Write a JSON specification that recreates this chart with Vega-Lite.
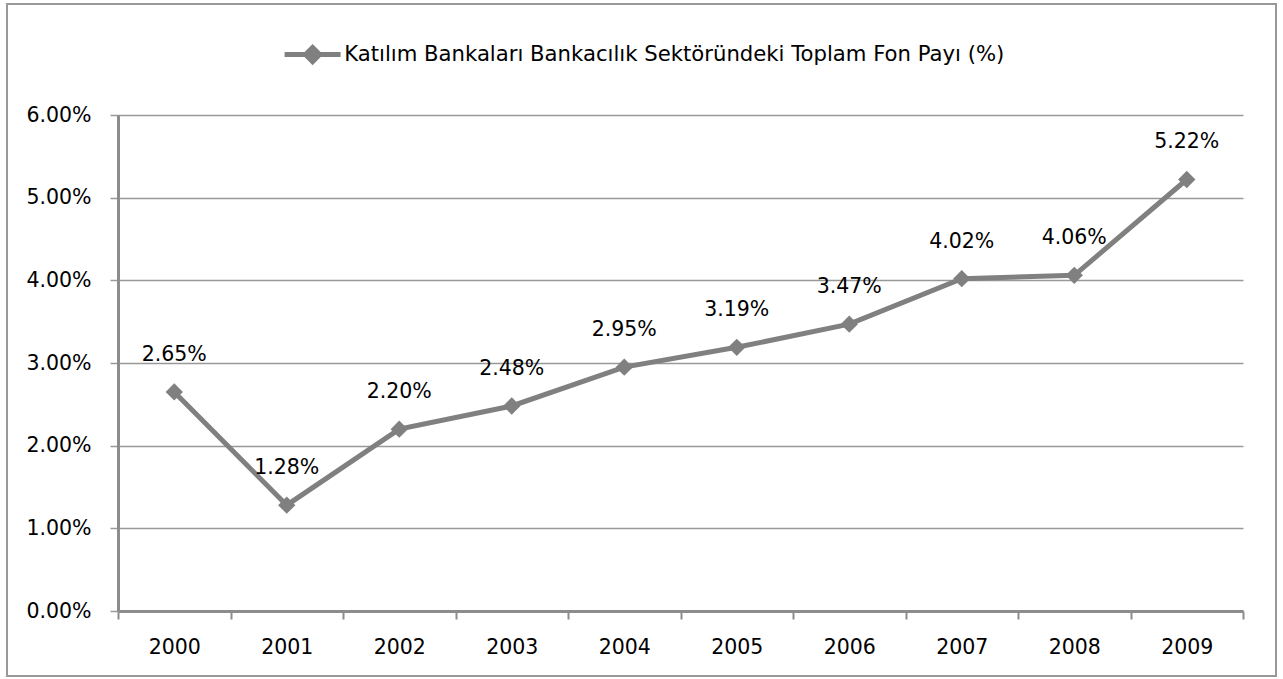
{
  "$schema": "https://vega.github.io/schema/vega-lite/v6.json",
  "autosize": {"type": "none"},
  "width": 1269,
  "height": 672,
  "padding": {"left": 7, "top": 4, "right": 7, "bottom": 3},
  "background": "white",
  "config": {
    "view": {"stroke": "#999999", "strokeWidth": 2},
    "font": "DejaVu Sans"
  },
  "data": {
    "values": [
      {"year": "2000", "share": 0.0265, "series": "Katılım Bankaları Bankacılık Sektöründeki Toplam Fon Payı (%)"},
      {"year": "2001", "share": 0.0128, "series": "Katılım Bankaları Bankacılık Sektöründeki Toplam Fon Payı (%)"},
      {"year": "2002", "share": 0.0220, "series": "Katılım Bankaları Bankacılık Sektöründeki Toplam Fon Payı (%)"},
      {"year": "2003", "share": 0.0248, "series": "Katılım Bankaları Bankacılık Sektöründeki Toplam Fon Payı (%)"},
      {"year": "2004", "share": 0.0295, "series": "Katılım Bankaları Bankacılık Sektöründeki Toplam Fon Payı (%)"},
      {"year": "2005", "share": 0.0319, "series": "Katılım Bankaları Bankacılık Sektöründeki Toplam Fon Payı (%)"},
      {"year": "2006", "share": 0.0347, "series": "Katılım Bankaları Bankacılık Sektöründeki Toplam Fon Payı (%)"},
      {"year": "2007", "share": 0.0402, "series": "Katılım Bankaları Bankacılık Sektöründeki Toplam Fon Payı (%)"},
      {"year": "2008", "share": 0.0406, "series": "Katılım Bankaları Bankacılık Sektöründeki Toplam Fon Payı (%)"},
      {"year": "2009", "share": 0.0522, "series": "Katılım Bankaları Bankacılık Sektöründeki Toplam Fon Payı (%)"}
    ]
  },
  "encoding": {
    "x": {
      "field": "year",
      "type": "ordinal",
      "scale": {"type": "band", "range": [111, 1236], "paddingInner": 0, "paddingOuter": 0},
      "axis": {
        "title": null,
        "labelAngle": 0,
        "tickBand": "extent",
        "offset": -65,
        "domainColor": "#8c8c8c",
        "domainWidth": 3,
        "tickColor": "#8c8c8c",
        "tickWidth": 2,
        "tickSize": 8,
        "labelPadding": 18,
        "labelFontSize": 20.5,
        "labelColor": "#000000",
        "labelFont": "DejaVu Sans",
        "grid": false
      }
    },
    "y": {
      "field": "share",
      "type": "quantitative",
      "scale": {"domain": [0, 0.06], "range": [607, 111], "nice": false},
      "axis": {
        "title": null,
        "values": [0, 0.01, 0.02, 0.03, 0.04, 0.05, 0.06],
        "format": ".2%",
        "offset": -111,
        "domainColor": "#8c8c8c",
        "domainWidth": 3,
        "tickColor": "#999999",
        "tickWidth": 1.5,
        "tickSize": 8,
        "labelPadding": 19,
        "labelFontSize": 20.5,
        "labelColor": "#000000",
        "labelFont": "DejaVu Sans",
        "grid": true,
        "gridColor": "#999999",
        "gridWidth": 1.5
      }
    }
  },
  "layer": [
    {
      "mark": {"type": "line", "strokeWidth": 5},
      "encoding": {
        "color": {
          "field": "series",
          "type": "nominal",
          "scale": {"range": ["#808080"]},
          "legend": {
            "title": null,
            "orient": "none",
            "legendX": 295,
            "legendY": 40,
            "symbolType": "M-4,0L4,0M0,-1L1,0L0,1L-1,0Z",
            "symbolSize": 196,
            "symbolStrokeWidth": 5,
            "labelOffset": 21,
            "labelFontSize": 21.2,
            "labelFont": "DejaVu Sans",
            "labelColor": "#000000",
            "labelLimit": 0,
            "encode": {
              "symbols": {"update": {"fill": {"value": "#808080"}, "stroke": {"value": "#808080"}, "strokeWidth": {"value": 5}}}
            }
          }
        }
      }
    },
    {
      "mark": {"type": "point", "shape": "diamond", "filled": true, "size": 300, "opacity": 1, "color": "#808080"}
    },
    {
      "mark": {"type": "text", "dy": -37, "fontSize": 20.5, "font": "DejaVu Sans", "color": "#000000"},
      "encoding": {
        "text": {"field": "share", "type": "quantitative", "format": ".2%"}
      }
    }
  ]
}
